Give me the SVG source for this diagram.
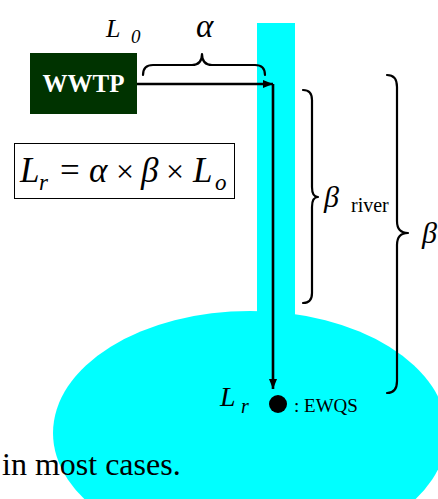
<svg xmlns="http://www.w3.org/2000/svg" width="438" height="499" viewBox="0 0 438 499">
<style>
.brace{fill:none;stroke:#000;stroke-width:2.2;stroke-linecap:round;stroke-linejoin:round}
.conn{fill:none;stroke:#000;stroke-width:2.6}
</style>
<defs>
<marker id="ah" markerWidth="10" markerHeight="8" refX="10" refY="4" orient="auto" markerUnits="userSpaceOnUse">
<path d="M0,0 L10,4 L0,8 Z" fill="#000"/>
</marker>
</defs>
<rect width="438" height="499" fill="#fff"/>
<g id="lake"><ellipse cx="250" cy="433" rx="197" ry="122" fill="#00FFFF"/></g>
<g id="river"><rect x="257" y="23" width="38" height="292" fill="#00FFFF"/></g>
<g id="wwtp">
<rect x="30" y="53" width="107" height="61" fill="#003300"/>
<text x="83.5" y="92" text-anchor="middle" font-family="Liberation Serif" font-weight="bold" font-size="25" fill="#fff">WWTP</text>
</g>
<g id="connectors">
<line x1="137" y1="84" x2="273" y2="84" class="conn" marker-end="url(#ah)"/>
<line x1="273" y1="84" x2="273" y2="389" class="conn" marker-end="url(#ah)"/>
</g>
<g id="ewqs">
<circle cx="278" cy="404" r="9" fill="#000"/>
<text x="294" y="412" font-family="Liberation Serif" font-size="19">: EWQS</text>
</g>
<g id="lr-label" font-family="Liberation Serif" font-style="italic">
<text x="220" y="406" font-size="28">L</text>
<text x="241" y="413" font-size="20">r</text>
</g>
<g id="l0-label" font-family="Liberation Serif" font-style="italic">
<text x="106" y="37" font-size="26">L</text>
<text x="131" y="43" font-size="19">0</text>
</g>
<g id="alpha">
<text x="196" y="37" font-family="Liberation Serif" font-style="italic" font-size="33">α</text>
<path class="brace" d="M143,75 Q143,65 153,65 L192,65 Q202,65 202,54 Q202,65 212,65 L255,65 Q265,65 265,75"/>
</g>
<g id="beta-river">
<path class="brace" d="M303,90 Q312,90 312,100 L312,187 Q312,197 318,197 Q312,197 312,207 L312,293 Q312,303 303,303"/>
<text x="324" y="207" font-family="Liberation Serif" font-style="italic" font-size="30">β</text>
<text x="351" y="212" font-family="Liberation Serif" font-size="20">river</text>
</g>
<g id="beta">
<path class="brace" d="M387,75 Q397,75 397,87 L397,221 Q397,233 408,233 Q397,233 397,245 L397,381 Q397,393 387,393"/>
<text x="422" y="243" font-family="Liberation Serif" font-style="italic" font-size="30">β</text>
</g>
<g id="formula" font-family="Liberation Serif">
<rect x="14.5" y="143.5" width="220" height="55" fill="none" stroke="#000" stroke-width="1"/>
<text x="20" y="182" font-style="italic" font-size="35">L</text>
<text x="39" y="190" font-style="italic" font-size="23">r</text>
<text x="60" y="182" font-size="35">=</text>
<text x="89" y="182" font-style="italic" font-size="35">α</text>
<text x="116" y="182" font-size="32">×</text>
<text x="141" y="182" font-style="italic" font-size="35">β</text>
<text x="166" y="182" font-size="32">×</text>
<text x="193" y="182" font-style="italic" font-size="35">L</text>
<text x="215" y="190" font-style="italic" font-size="23">o</text>
</g>
<g id="caption">
<text x="2" y="475" font-family="Liberation Serif" font-size="32">in most cases.</text>
</g>
</svg>
